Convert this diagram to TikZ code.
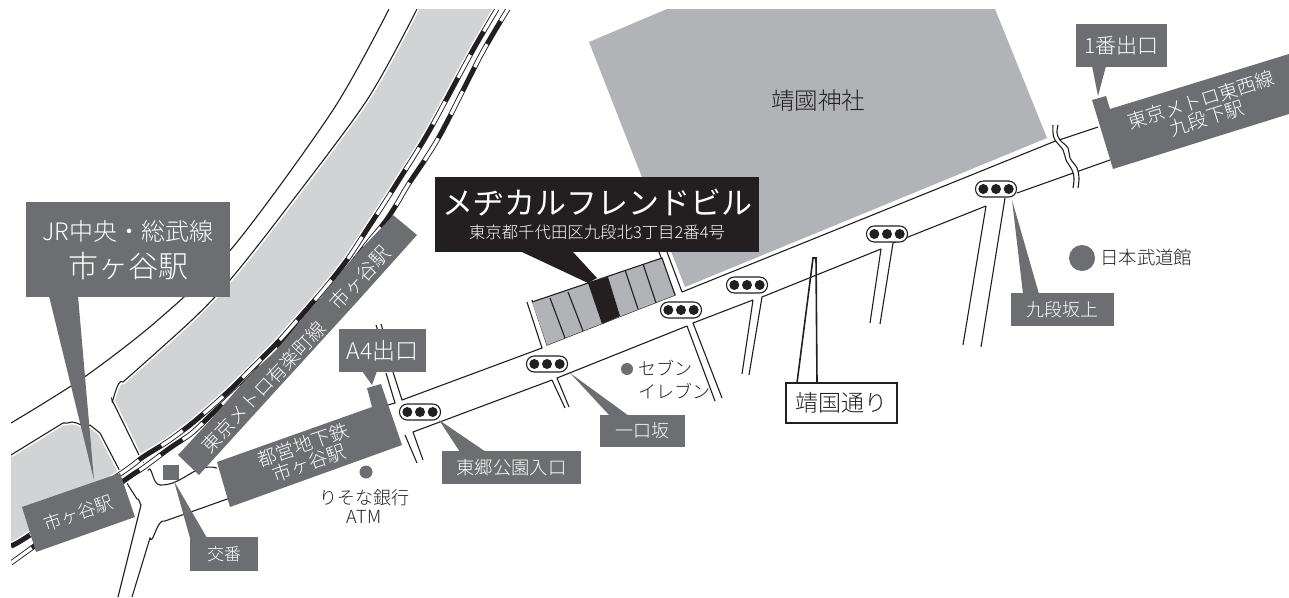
\documentclass[tikz,border=0pt]{standalone}
\usepackage{fontspec}
\setmainfont{Noto Sans CJK JP Light}
\newfontfamily\titlef{Noto Sans CJK JP}
\definecolor{lab}{HTML}{6D6E71}
\definecolor{moat}{HTML}{D1D3D4}
\definecolor{shr}{HTML}{B1B3B6}
\definecolor{ink}{HTML}{231F20}
\tikzset{
 road/.style={draw=ink,line width=1.1pt},
 halo/.style={draw=white,line width=4.5pt},
 trhalo/.style={draw=white,line width=8pt},
 trblack/.style={draw=ink,line width=5pt},
 trwhite/.style={draw=white,line width=3.2pt,dash pattern=on 26pt off 27pt},
 lab/.style={fill=lab,draw=none},
 wt/.style={text=white,font=\fontsize{#1}{#1}\selectfont,inner sep=0pt,align=center},
 bt/.style={text=ink,font=\fontsize{#1}{#1}\selectfont,inner sep=0pt,align=center},
}
\newcommand{\pill}[2]{%
 \node[draw=ink,fill=white,line width=1.1pt,rounded corners=7.8pt,minimum width=41pt,minimum height=16pt,inner sep=0pt] (#2) at (#1) {};
 \fill[ink] (#2.center) circle (5pt) ([xshift=-12.7pt]#2.center) circle (5pt) ([xshift=12.7pt]#2.center) circle (5pt);}
\begin{document}
\begin{tikzpicture}[x=1pt,y=-1pt]
\useasboundingbox (0,0) rectangle (1289,597);
\fill[white] (0,0) rectangle (1289,597);
\begin{scope}
\clip (11,9) rectangle (1289,597);
% shrine
\fill[shr] (589,42) -- (667,9) -- (995,9) -- (1047,138) -- (685,287) -- cycle;
% moat
\fill[moat] plot[smooth,tension=0.5] coordinates {(417,9) (367,100) (283,213) (230,280) (192,320) (123,382)}
  to[out=135,in=-90] (112,400) -- (143,462)
  -- plot[smooth,tension=0.5] coordinates {(143,457) (167,442) (190,425) (210,408) (230,390) (250,370) (277,343) (300,317) (325,288) (347,260) (368,228) (385,202) (397,183) (428,133) (473,50) (497,9)} -- cycle;
\fill[moat] (11,455) -- (63,423) to[out=-25,in=180] (72,422) to[out=0,in=-140] (90,425) -- (100,433) -- (123,477) -- (11,546) -- cycle;
% outlines
\draw[road] plot[smooth,tension=0.5] coordinates {(389,9) (333,110) (233,247) (158,320) (83,378) (11,423)};
\draw[halo] plot[smooth,tension=0.5] coordinates {(417,9) (367,100) (283,213) (230,280) (192,320) (123,382)}
  to[out=135,in=-90] (112,400) -- (140,457);
\draw[halo] (11,455) -- (63,423) to[out=-25,in=180] (72,422) to[out=0,in=-140] (90,425) -- (100,433) -- (123,477);
\draw[road] plot[smooth,tension=0.5] coordinates {(417,9) (367,100) (283,213) (230,280) (192,320) (123,382)}
  to[out=135,in=-90] (112,400) -- (140,457) -- (148,470) to[out=60,in=180] (160,485) to[out=-2,in=165] (217,468);
\draw[road] (11,455) -- (63,423) to[out=-25,in=180] (72,422) to[out=0,in=-140] (90,425) -- (100,433) -- (123,477) -- (137,499) to[out=60,in=-80] (141,505) -- (118,597);
\draw[road] (230,498) -- (202,508) -- (165,521) to[out=160,in=-70] (150,538) -- (132,597);
% rails: halos, far track, banner, near track
\draw[trhalo] plot[smooth,tension=0.5] coordinates {(497,9) (473,50) (428,133) (397,183) (385,202) (368,228) (347,260) (325,288) (300,317) (277,343) (250,370) (230,390) (210,408) (190,425) (167,442) (143,457) (123,472) (30,535) (11,546)};
\draw[trhalo] plot[smooth,tension=0.5] coordinates {(508,9) (481,55) (439,137) (408,185) (398,202) (385,222) (370,240) (353,262) (323,299) (300,325) (270,355) (250,378) (213,413) (192,433) (170,448) (143,468) (125,480) (33,547) (11,563)};
\draw[trblack] plot[smooth,tension=0.5] coordinates {(508,9) (481,55) (439,137) (408,185) (398,202) (385,222) (370,240) (353,262) (323,299) (300,325) (270,355) (250,378) (213,413) (192,433) (170,448) (143,468) (125,480) (33,547) (11,563)};
\draw[trwhite,dash phase=12pt] plot[smooth,tension=0.5] coordinates {(508,9) (481,55) (439,137) (408,185) (398,202) (385,222) (370,240) (353,262) (323,299) (300,325) (270,355) (250,378) (213,413) (192,433) (170,448) (143,468) (125,480) (33,547) (11,563)};
\fill[lab] (178,455) -- plot[smooth,tension=0.5] coordinates {(178,455) (213,417) (250,375) (277,349) (307,313) (323,295) (353,258) (387,222) (393,215)} -- (417,235) -- (355,304) -- (270,397) -- (199,475) -- cycle;
\draw[trblack] plot[smooth,tension=0.5] coordinates {(497,9) (473,50) (428,133) (397,183) (385,202) (368,228) (347,260) (325,288) (300,317) (277,343) (250,370) (230,390) (210,408) (190,425) (167,442) (143,457) (123,472) (30,535) (11,546)};
\draw[trwhite] plot[smooth,tension=0.5] coordinates {(497,9) (473,50) (428,133) (397,183) (385,202) (368,228) (347,260) (325,288) (300,317) (277,343) (250,370) (230,390) (210,408) (190,425) (167,442) (143,457) (123,472) (30,535) (11,546)};
% main road
\draw[road] (1098,127) -- (1053,142) -- (682,292);
\draw[road] (1110,160) -- (1017,193);
\draw[road] (1005,198) -- (981,347);
\draw[road] (986,206) -- (963,345);
\draw[road] (986,206) -- (893,243) -- (880,324);
\draw[road] (881,249) -- (870,323);
\draw[road] (881,249) -- (762,297) -- (749,375);
\draw[road] (753,300) -- (742,374);
\draw[road] (753,300) -- (693,323) -- (722,398);
\draw[road] (687,326) -- (715,401);
\draw[road] (687,326) -- (557,378) -- (569,407);
\draw[road] (552,380) -- (565,408);
\draw[road] (552,380) -- (413,432) -- (423,460);
\draw[road] (405,435) -- (417,463);
\draw[road] (667,252) -- (682,292);
\draw[road] (659,252) -- (675,295) -- (547,345) -- (532,300);
\draw[road] (527,302) -- (542,348) -- (402,400) -- (393,372);
\draw[road] (386,373) -- (395,403) -- (388,405);
\draw[road] (376,325) -- (378,331);
\draw[road] (381,324) -- (383,331);
% break
\fill[white] plot[smooth,tension=0.6] coordinates {(1053,125) (1053,133) (1055,140) (1063,150) (1066,160) (1072,170) (1074,178) (1073,188)} -- plot[smooth,tension=0.6] coordinates {(1078,188) (1079,178) (1077,168) (1070,158) (1068,148) (1060,140) (1057,133) (1058,125)} -- cycle;
\draw[road] plot[smooth,tension=0.6] coordinates {(1053,125) (1053,133) (1055,140) (1063,150) (1066,160) (1072,170) (1074,178) (1073,188)};
\draw[road] plot[smooth,tension=0.6] coordinates {(1058,125) (1057,133) (1060,140) (1068,148) (1070,158) (1077,168) (1079,178) (1078,188)};
% building
\fill[shr] (532,302) -- (662,258) -- (675,295) -- (547,345) -- cycle;
\draw[road] (532,302) -- (662,258) -- (675,295);
\fill[ink] (588,283) -- (608,277) -- (620,316) -- (602,324) -- cycle;
\draw[road] (550,298) -- (565,338);
\draw[road] (568,292) -- (583,331);
\draw[road] (625,270) -- (638,309);
\draw[road] (643,264) -- (656,303);
\end{scope}
% labels: black callout
\node[fill=ink,minimum width=324pt,minimum height=75pt,inner sep=0pt] (name) at (597,214.5) {};
\fill[ink] (522,252) -- (573,252) -- (597,278) -- (588,283) -- cycle;
\node[wt=31] (nm) at (597,203) {\titlef メヂカルフレンドビル};
\node[wt=16.4] (ad) at (597,232) {東京都千代田区九段北3丁目2番4号};
% JR
\fill[lab] (49,296) -- (78,296) -- (94,480) -- cycle;
\node[fill=lab,minimum width=204pt,minimum height=95pt,inner sep=0pt] (jr) at (128,249.5) {};
\node[wt=24] (jr1) at (128,231) {JR中央・総武線};
\node[wt=30] (jr2) at (128,266) {市ヶ谷駅};
% Ichigaya rot
\fill[lab] (22,507) -- (120,473) -- (135,517) -- (36,552) -- cycle;
\node[wt=18,rotate=19] (ic) at (78,513) {市ヶ谷駅};
\node[wt=19,rotate=46.9] (yu) at (263.5,387) {東京メトロ有楽町線};
\node[wt=19.5,rotate=46.9] (yu2) at (360,278) {市ヶ谷駅};
% Toei
\fill[lab] (217,462) -- (372,407) -- (367,388) -- (381,384) -- (402,445) -- (230,507) -- cycle;
\node[wt=19,rotate=19] (to) at (306,454) {都営地下鉄\\市ヶ谷駅};
% A4
\node[fill=lab,minimum width=87pt,minimum height=43pt,inner sep=0pt] (a4) at (382.5,350.5) {};
\fill[lab] (362,371) -- (377,371) -- (372,385) -- cycle;
\node[wt=23] (a4t) at (382.5,351) {A4出口};
% koban
\node[fill=lab,minimum width=16pt,minimum height=15pt,inner sep=0pt] (kb) at (171,472.5) {};
\fill[lab] (174,481) -- (190,538) -- (207,538) -- cycle;
\node[fill=lab,minimum width=68pt,minimum height=34pt,inner sep=0pt] (kbl) at (224,554) {};
\node[wt=17] (kbt) at (224,554) {交番};
% ATM
\node[fill=lab,circle,minimum size=13pt,inner sep=0pt] (atm) at (366,472) {};
\node[bt=18] (atmt) at (364,506.5) {りそな銀行\\[1pt]ATM};
% Togo
\fill[lab] (439,420) -- (460,452) -- (486,452) -- cycle;
\node[fill=lab,minimum width=139pt,minimum height=33pt,inner sep=0pt] (tg) at (511.5,467.5) {};
\node[wt=18.3] (tgt) at (511.5,467.5) {東郷公園入口};
% Hitokuchi
\fill[lab] (570,373) -- (610,416) -- (629,416) -- cycle;
\node[fill=lab,minimum width=85pt,minimum height=32pt,inner sep=0pt] (hk) at (642.5,431) {};
\node[wt=18] (hkt) at (642.5,431) {一口坂};
% seven
\node[fill=lab,circle,minimum size=12pt,inner sep=0pt] (sv) at (627,369) {};
\node[bt=18,anchor=west] (sv1) at (638,368) {セブン};
\node[bt=18,anchor=west] (sv2) at (638,391) {イレブン};
% kudanzaka
\fill[lab] (1012,200) -- (1023,294) -- (1039,294) -- cycle;
\node[fill=lab,minimum width=103pt,minimum height=33pt,inner sep=0pt] (kd) at (1062.5,309.5) {};
\node[wt=18] (kdt) at (1062.5,309.5) {九段坂上};
% budokan
\node[fill=lab,circle,minimum size=26pt,inner sep=0pt] (bd) at (1082,258) {};
\node[bt=18.4,anchor=west] (bdt) at (1100,258) {日本武道館};
% 1ban
\fill[lab] (1092,66) -- (1106,66) -- (1098,96) -- cycle;
\node[fill=lab,minimum width=91pt,minimum height=43pt,inner sep=0pt] (ib) at (1121.5,45.5) {};
\node[wt=21] (ibt) at (1121.5,46) {1番出口};
\fill[lab] (1092,100) -- (1106,96) -- (1110,109) -- (1289,54) -- (1289,114) -- (1113,169) -- cycle;
\node[wt=19,rotate=17.5] (tz) at (1204,109) {東京メトロ東西線\\九段下駅};
% shrine text
\node[bt=23.5] (yj) at (818,101) {靖國神社};
% street label
\draw[ink,line width=1.6pt] (797,383) -- (813,258) -- (816,258) -- (817,383);
\node[draw=ink,fill=white,line width=1.6pt,minimum width=111pt,minimum height=40pt,inner sep=0pt,font=\fontsize{23}{23}\selectfont,text=ink] (ys) at (841.5,403) {靖国通り};
\pill{420,412}{s1}
\pill{547,364}{s2}
\pill{681,310}{s3}
\pill{747,285}{s4}
\pill{887,234}{s5}
\pill{996,189}{s6}
\end{tikzpicture}
\end{document}
